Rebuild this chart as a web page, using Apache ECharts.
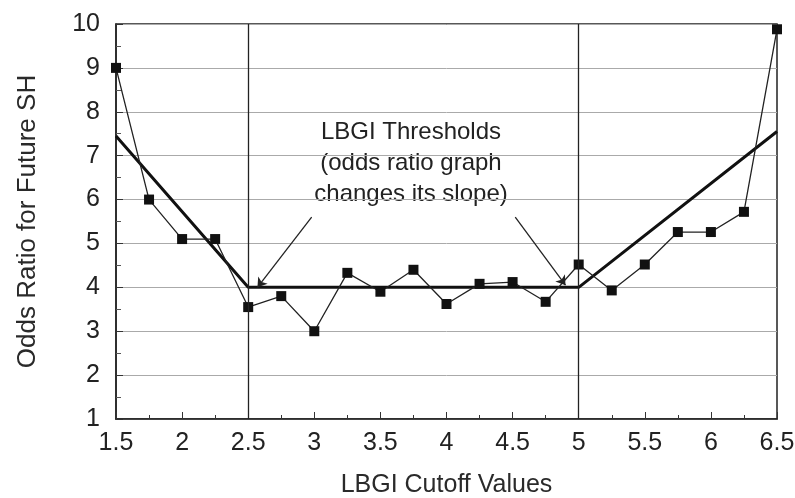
<!doctype html>
<html lang="en">
<head>
    <meta charset="UTF-8">
    <title>LBGI Cutoff Values</title>
    <style>
        *{margin: 0; padding: 0}
        body{background: #fff}
    </style>
</head>
<body>
<div id="block" style="width:795px;height:498px"></div>
<script src="https://cdn.jsdelivr.net/npm/echarts@6/dist/echarts.min.js"></script>
<script>
    // data
    const cutoffs = [1.5, 1.75, 2, 2.25, 2.5, 2.75, 3, 3.25, 3.5, 3.75, 4, 4.25, 4.5, 4.75, 5, 5.25, 5.5, 5.75, 6, 6.25, 6.5];
    const oddsRatio = [9.0, 6.0, 5.1, 5.1, 3.55, 3.8, 3.0, 4.33, 3.9, 4.4, 3.62, 4.08, 4.12, 3.67, 4.52, 3.93, 4.52, 5.26, 5.26, 5.72, 9.88];
    const trendX = [1.5, 2.5, 5, 6.5];
    const trendY = [7.45, 4.0, 4.0, 7.55];
    const thresholds = [2.5, 5];
    const noteLines = ['LBGI Thresholds', '(odds ratio graph', 'changes its slope)'];
    // arrows: [from, to] in data units
    const arrows = [
        [[2.98, 5.6], [2.57, 4.0]],
        [[4.52, 5.6], [4.9, 4.05]]
    ];

    const font = 'Liberation Sans, Arial, sans-serif';
    const chart = echarts.init(document.getElementById('block'));

    let option = {
        animation: false,
        grid: {left: 116, right: 18, top: 24, bottom: 79, outerBoundsMode: 'none'},
        xAxis: {
            type: 'value', min: 1.5, max: 6.5, interval: 0.5,
            name: 'LBGI Cutoff Values', nameLocation: 'middle', nameGap: 54,
            nameTextStyle: {fontFamily: font, fontSize: 25, color: '#2a2a2a'},
            axisLine: {lineStyle: {color: '#222', width: 1.5}},
            axisTick: {inside: true, length: 7, lineStyle: {color: '#333'}},
            minorTick: {show: true, splitNumber: 2, length: 4, lineStyle: {color: '#333'}},
            axisLabel: {fontFamily: font, fontSize: 25, color: '#222', margin: 12},
            splitLine: {show: false}
        },
        yAxis: {
            type: 'value', min: 1, max: 10, interval: 1,
            name: 'Odds Ratio for Future SH', nameLocation: 'middle', nameGap: 75,
            nameTextStyle: {fontFamily: font, fontSize: 26, color: '#2a2a2a'},
            axisLine: {lineStyle: {color: '#222', width: 1.5}},
            axisTick: {inside: true, length: 7, lineStyle: {color: '#333'}},
            minorTick: {show: true, splitNumber: 2, length: 5, lineStyle: {color: '#555'}},
            axisLabel: {fontFamily: font, fontSize: 25, color: '#222', margin: 16},
            splitLine: {show: true, lineStyle: {color: '#aaa', width: 1}}
        },
        graphic: [
            {type: 'rect', shape: {x: 116, y: 24, width: 661, height: 395}, style: {fill: 'none', stroke: '#222', lineWidth: 1.5}, silent: true},
            {
                type: 'text', x: 411, y: 117,
                style: {text: noteLines.join('\n'), font: '24px ' + font, fill: '#222', align: 'center', lineHeight: 31}
            }
        ],
        series: [{
            type: 'line',
            data: cutoffs.map((c, i) => [c, oddsRatio[i]]),
            symbol: 'rect', symbolSize: 10,
            itemStyle: {color: '#111'},
            lineStyle: {color: '#222', width: 1.3},
            z: 4,
            markLine: {
                silent: true, symbol: 'none', label: {show: false},
                lineStyle: {color: '#222', width: 1.3, type: 'solid'},
                data: thresholds.map(t => ({xAxis: t}))
            }
        }, {
            type: 'line',
            data: trendX.map((x, i) => [x, trendY[i]]),
            symbol: 'none',
            lineStyle: {color: '#111', width: 3},
            z: 3,
            markLine: {
                silent: true, symbol: ['none', 'arrow'], symbolSize: 9, label: {show: false},
                lineStyle: {color: '#222', width: 1.3, type: 'solid'},
                data: arrows.map(a => [{coord: a[0]}, {coord: a[1]}])
            }
        }]
    };
    chart.setOption(option);
</script>
</body>
</html>
